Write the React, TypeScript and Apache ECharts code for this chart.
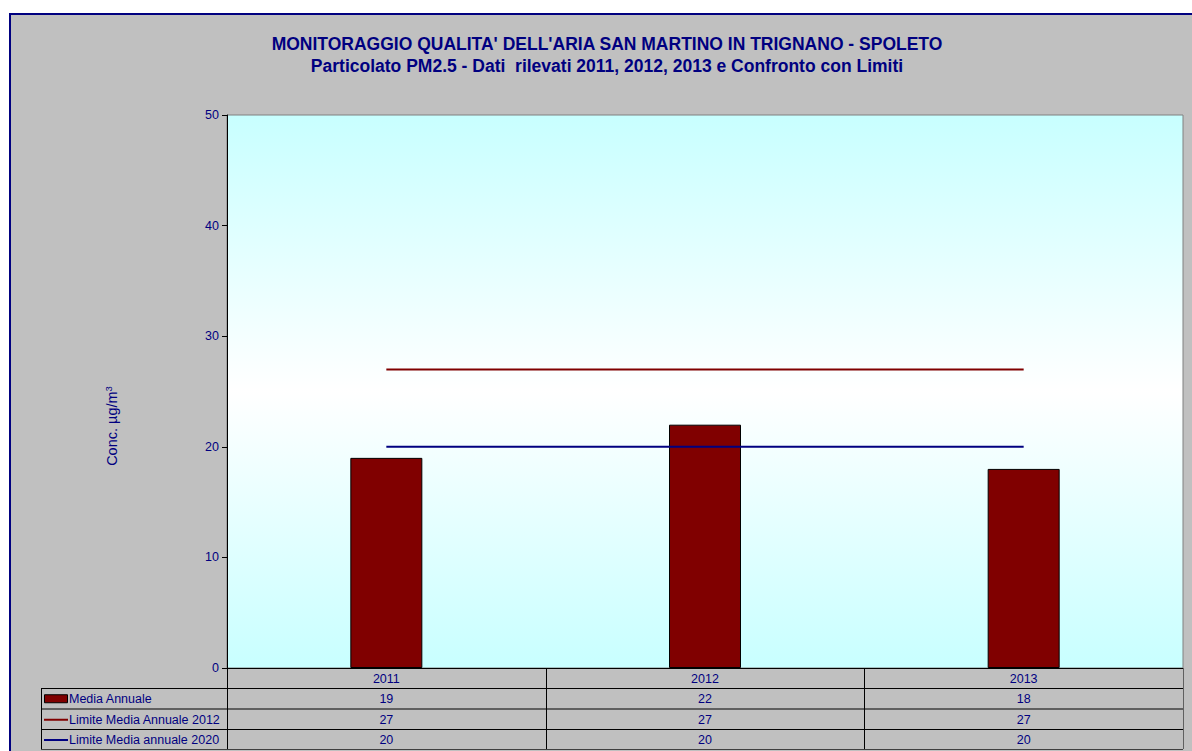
import React, { useEffect, useRef } from "react";
import * as echarts from "echarts";

const categories = ["2011", "2012", "2013"];
const mediaAnnuale = [19, 22, 18];
const limite2012 = [27, 27, 27];
const limite2020 = [20, 20, 20];
const seriesNames = ["Media Annuale", "Limite Media Annuale 2012", "Limite Media annuale 2020"];
const titleLines = [
  "MONITORAGGIO QUALITA' DELL'ARIA SAN MARTINO IN TRIGNANO - SPOLETO",
  "Particolato PM2.5 - Dati  rilevati 2011, 2012, 2013 e Confronto con Limiti",
];
const yMin = 0;
const yMax = 50;
const yInterval = 10;

const W = 1192;
const H = 751;
const GL = 227;
const GT = 115;
const GW = 956;
const GH = 553;
const TXT = "#000080";
const BAR = "#800000";
const BLUE = "#000080";
const FONT = "'Liberation Sans', Arial, sans-serif";

export default function App() {
  const ref = useRef<HTMLDivElement>(null);

  useEffect(() => {
    if (!ref.current) return;
    const chart = echarts.init(ref.current, undefined, { renderer: "svg" });

    const colW = GW / categories.length;
    const tableTop = GT + GH; // 668
    const rowH = [20, 20.5, 20.5, 20];
    const rowY: number[] = [tableTop];
    rowH.forEach((h, i) => rowY.push(rowY[i] + h));
    const tableLeft = 41;
    const tableRight = GL + GW;

    const g: any[] = [];
    for (let i = 1; i < rowY.length; i++) {
      g.push({
        type: "line",
        z: 50,
        shape: { x1: tableLeft, y1: rowY[i] + 0.5, x2: tableRight, y2: rowY[i] + 0.5 },
        style: { stroke: i === rowY.length - 1 ? "#404040" : "#000", lineWidth: 1 },
      });
    }
    g.push({
      type: "line",
      z: 50,
      shape: { x1: tableLeft + 0.5, y1: rowY[1], x2: tableLeft + 0.5, y2: rowY[4] },
      style: { stroke: "#000", lineWidth: 1 },
    });
    for (let c = 0; c <= categories.length; c++) {
      const x = Math.round(GL + c * colW) + 0.5;
      g.push({
        type: "line",
        z: 50,
        shape: { x1: x, y1: rowY[0], x2: x, y2: rowY[4] },
        style: { stroke: c === categories.length ? "#606060" : "#000", lineWidth: 1 },
      });
    }
    categories.forEach((cat, i) => {
      g.push({
        type: "text",
        z: 51,
        x: GL + (i + 0.5) * colW,
        y: (rowY[0] + rowY[1]) / 2 + 1,
        style: { text: cat, fill: TXT, font: `12.5px ${FONT}`, align: "center", verticalAlign: "middle" },
      });
    });
    const rows = [mediaAnnuale, limite2012, limite2020];
    rows.forEach((vals, r) => {
      const cy = (rowY[r + 1] + rowY[r + 2]) / 2 + 1;
      vals.forEach((v, i) => {
        g.push({
          type: "text",
          z: 51,
          x: GL + (i + 0.5) * colW,
          y: cy,
          style: { text: String(v), fill: TXT, font: `12.5px ${FONT}`, align: "center", verticalAlign: "middle" },
        });
      });
      g.push({
        type: "text",
        z: 51,
        x: 69,
        y: cy,
        style: { text: seriesNames[r], fill: TXT, font: `12.5px ${FONT}`, align: "left", verticalAlign: "middle" },
      });
      if (r === 0) {
        g.push({
          type: "rect",
          z: 51,
          shape: { x: 44.5, y: cy - 4.5, width: 23, height: 8 },
          style: { fill: BAR, stroke: "#000", lineWidth: 1 },
        });
      } else {
        g.push({
          type: "line",
          z: 51,
          shape: { x1: 44, y1: cy, x2: 68, y2: cy },
          style: { stroke: r === 1 ? BAR : BLUE, lineWidth: 2 },
        });
      }
    });
    g.push({
      type: "text",
      z: 51,
      x: 112,
      y: 426,
      rotation: Math.PI / 2,
      style: {
        text: "Conc. µg/m{sup|3}",
        fill: TXT,
        font: `14.5px ${FONT}`,
        align: "center",
        verticalAlign: "middle",
        rich: {
          sup: { fill: TXT, font: `9.5px ${FONT}`, verticalAlign: "top", padding: [0, 0, 7, 0] },
        },
      },
    });
    titleLines.forEach((t, i) => {
      g.push({
        type: "text",
        z: 51,
        x: 607,
        y: 44 + i * 22,
        style: { text: t, fill: TXT, font: `bold 17.5px ${FONT}`, align: "center", verticalAlign: "middle" },
      });
    });

    chart.setOption({
      animation: false,
      backgroundColor: "transparent",
      grid: {
        left: GL,
        top: GT,
        width: GW,
        height: GH,
        show: true,
        borderColor: "#808080",
        borderWidth: 1,
        backgroundColor: new echarts.graphic.LinearGradient(0, 0, 0, 1, [
          { offset: 0, color: "#c8ffff" },
          { offset: 0.5, color: "#ffffff" },
          { offset: 1, color: "#c8ffff" },
        ]),
      },
      xAxis: {
        type: "category",
        data: categories,
        axisLine: { lineStyle: { color: "#000", width: 1 } },
        axisTick: { show: false },
        axisLabel: { show: false },
      },
      yAxis: {
        type: "value",
        min: yMin,
        max: yMax,
        interval: yInterval,
        axisLine: { show: true, lineStyle: { color: "#000", width: 1 } },
        axisTick: { show: true, length: 5, lineStyle: { color: "#000" } },
        axisLabel: { color: TXT, fontSize: 12.5, fontFamily: FONT, margin: 8 },
        splitLine: { show: false },
      },
      series: [
        {
          name: seriesNames[0],
          type: "bar",
          data: mediaAnnuale,
          barWidth: 72,
          itemStyle: { color: BAR, borderColor: "#000", borderWidth: 1 },
          z: 2,
        },
        {
          name: seriesNames[1],
          type: "line",
          data: limite2012,
          symbol: "none",
          lineStyle: { color: BAR, width: 2 },
          z: 3,
        },
        {
          name: seriesNames[2],
          type: "line",
          data: limite2020,
          symbol: "none",
          lineStyle: { color: BLUE, width: 2 },
          z: 3,
        },
      ],
      graphic: g,
    });

    return () => chart.dispose();
  }, []);

  return (
    <div style={{ position: "fixed", left: 0, top: 0, width: W, height: H, background: "#fff", overflow: "hidden" }}>
      <div
        style={{
          position: "absolute",
          left: 9,
          top: 13,
          width: W + 20,
          height: H + 20,
          background: "#c0c0c0",
          border: "2px solid #000080",
          boxSizing: "border-box",
        }}
      />
      <div ref={ref} style={{ position: "absolute", left: 0, top: 0, width: W, height: H }} />
    </div>
  );
}
